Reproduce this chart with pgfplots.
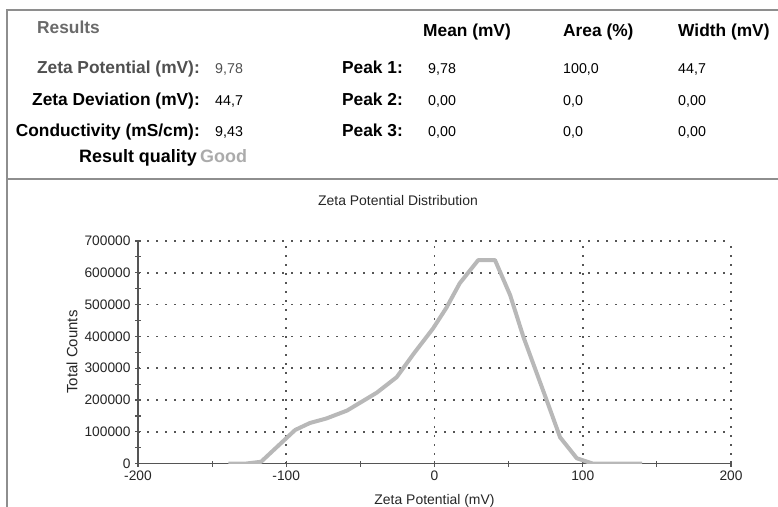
\documentclass[border=0pt]{standalone}
\usepackage{fontspec}
\setmainfont{Liberation Sans}
\usepackage{pgfplots}
\pgfplotsset{compat=1.18}
\definecolor{framegray}{HTML}{8E8E8E}
\definecolor{axisgray}{HTML}{555555}
\definecolor{dotgray}{HTML}{555555}
\definecolor{curvegray}{HTML}{B8B8B8}
\definecolor{headgray}{HTML}{6A6A6A}
\definecolor{rowgray}{HTML}{505050}
\definecolor{goodgray}{HTML}{ABABAB}
\newcommand\lbl{\fontsize{17.4}{20}\selectfont\bfseries}
\newcommand\val{\fontsize{14.3}{17}\selectfont}
\newcommand\chartfont{\fontsize{14}{16}\selectfont}
\begin{document}
\begin{tikzpicture}[x=1bp,y=1bp]
\clip (0,0) rectangle (778,507);
% frame of the results panel
\draw[framegray, line width=1.5bp] (778,497) -- (7,497) -- (7,-2);
\draw[framegray, line width=1.5bp] (7,328) -- (778,328);
% results table
\node[anchor=base west, inner sep=0, text=headgray] at (37,473) {\lbl Results};
\node[anchor=base west, inner sep=0] at (423,470) {\lbl Mean (mV)};
\node[anchor=base west, inner sep=0] at (563,470) {\lbl Area (\%)};
\node[anchor=base west, inner sep=0] at (678,470) {\lbl Width (mV)};
\node[anchor=base east, inner sep=0, text=rowgray] at (200,433) {\lbl Zeta Potential (mV):};
\node[anchor=base west, inner sep=0, text=rowgray] at (215,433) {\val 9,78};
\node[anchor=base east, inner sep=0] at (200,401) {\lbl Zeta Deviation (mV):};
\node[anchor=base west, inner sep=0] at (215,401) {\val 44,7};
\node[anchor=base east, inner sep=0] at (200,370) {\lbl Conductivity (mS/cm):};
\node[anchor=base west, inner sep=0] at (215,370) {\val 9,43};
\node[anchor=base east, inner sep=0] at (197,344) {\fontsize{18}{20}\selectfont\bfseries Result quality};
\node[anchor=base west, inner sep=0, text=goodgray] at (200,344) {\fontsize{18}{20}\selectfont\bfseries Good};
\node[anchor=base east, inner sep=0] at (403,433) {\lbl Peak 1:};
\node[anchor=base east, inner sep=0] at (403,401) {\lbl Peak 2:};
\node[anchor=base east, inner sep=0] at (403,370) {\lbl Peak 3:};
\node[anchor=base west, inner sep=0] at (428,433) {\val 9,78};
\node[anchor=base west, inner sep=0] at (428,401) {\val 0,00};
\node[anchor=base west, inner sep=0] at (428,370) {\val 0,00};
\node[anchor=base west, inner sep=0] at (563,433) {\val 100,0};
\node[anchor=base west, inner sep=0] at (563,401) {\val 0,0};
\node[anchor=base west, inner sep=0] at (563,370) {\val 0,0};
\node[anchor=base west, inner sep=0] at (678,433) {\val 44,7};
\node[anchor=base west, inner sep=0] at (678,401) {\val 0,00};
\node[anchor=base west, inner sep=0] at (678,370) {\val 0,00};
% chart titles
\node[anchor=base, inner sep=0, text=black!85] at (398,301.5) {\chartfont Zeta Potential Distribution};
\node[anchor=base, inner sep=0, text=black!85] at (434.5,2) {\chartfont Zeta Potential (mV)};
\node[rotate=90, inner sep=0, text=black!85] at (72,155) {\fontsize{15}{17}\selectfont Total Counts};
\begin{axis}[
  at={(138bp,43.3bp)}, anchor=south west,
  scale only axis, width=593bp, height=222.7bp,
  xmin=-200, xmax=200, ymin=0, ymax=700000,
  axis x line*=bottom, axis y line*=left,
  axis line style={-, draw=axisgray, line width=1.2bp},
  scaled y ticks=false, scaled x ticks=false,
  xtick={-200,-100,0,100,200},
  xticklabels={-200,-100,0,100,200},
  minor xtick={-150,-50,50,150},
  ytick={0,100000,200000,300000,400000,500000,600000,700000},
  yticklabels={0,100000,200000,300000,400000,500000,600000,700000},
  minor ytick={50000,150000,250000,350000,450000,550000,650000},
  tick align=center, major tick length=6bp, minor tick length=6bp,
  every tick/.style={axisgray, line width=1.2bp},
  grid=major,
  major grid style={dotgray, line width=1.6bp, dash pattern=on 1.6bp off 7.4bp},
  ticklabel style={font=\fontsize{13.8}{16}\selectfont, text=black!85},
  xticklabel style={yshift=-1bp},
  yticklabel style={xshift=-1bp},
]
\addplot[curvegray, line width=4bp, line join=round] coordinates {
(-139,0) (-128,0) (-117,6000) (-94,106000) (-84,128000) (-73,142000)
(-59,167000) (-39,223000) (-25.5,272000) (-14,346000) (-1,425000)
(8,490000) (17,567000) (29.5,640000) (40.8,640000) (51,530000)
(60,398000) (75.7,199000) (84.7,83000) (96,17000) (107,0) (140,0)
};
\end{axis}
\end{tikzpicture}
\end{document}
